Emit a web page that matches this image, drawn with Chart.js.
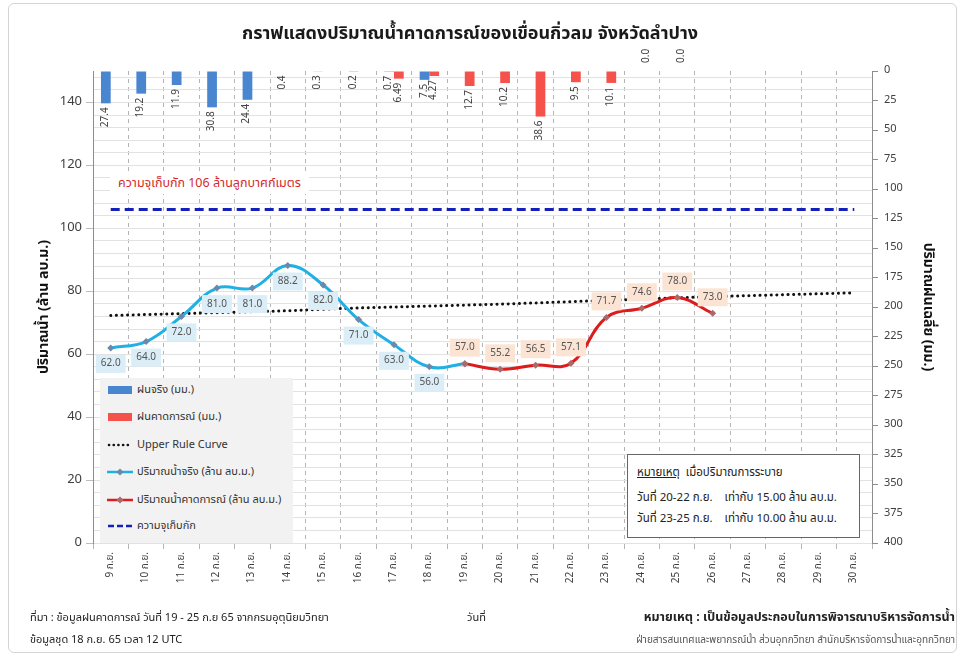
<!DOCTYPE html>
<html lang="th">
<head>
<meta charset="utf-8">
<title>ปริมาณน้ำคาดการณ์ เขื่อนกิ่วลม</title>
<script src="https://cdn.jsdelivr.net/npm/chart.js@4.4.1/dist/chart.umd.min.js"></script>
<style>
  body { margin: 0; background: #fff; font-family: 'Noto Sans Thai', Tahoma, 'Noto Sans', 'DejaVu Sans', sans-serif; color: #222; }
  #wrap { position: relative; width: 964px; height: 657px; overflow: hidden; }
  #frame { position: absolute; left: 8px; top: 3px; width: 947px; height: 648px; border: 1px solid #d4d4d4; border-radius: 6px; }
  #damChart { position: absolute; left: 0; top: 0; }
  .title { position: absolute; top: 20px; left: 0; width: 940px; text-align: center; font-size: 18px; font-weight: bold; color: #1a1a1a; }
  .cap-label { position: absolute; left: 110px; top: 173px; padding: 1px 8px; background: #fff; color: #d42a2a; font-size: 12.5px; }
  #legend { position: absolute; left: 100px; top: 378px; width: 193px; height: 165px; background: #f2f2f2; font-size: 11px; color: #333; }
  #legend .item { position: absolute; left: 7px; height: 14px; line-height: 14px; white-space: nowrap; }
  #legend svg { vertical-align: middle; margin-right: 4px; }
  #note { position: absolute; left: 627px; top: 454px; width: 231px; height: 82px; background: #fff; border: 1.5px solid #666; font-size: 11.5px; color: #222; }
  #note div { position: absolute; left: 9px; white-space: pre; }
  .foot { position: absolute; font-size: 11px; color: #222; white-space: nowrap; }
</style>
</head>
<body>
<div id="wrap">
  <div id="frame"></div>
  <canvas id="damChart" width="964" height="657"></canvas>
  <div class="title">กราฟแสดงปริมาณน้ำคาดการณ์ของเขื่อนกิ่วลม จังหวัดลำปาง</div>
  <div class="cap-label">ความจุเก็บกัก 106 ล้านลูกบาศก์เมตร</div>

  <div id="legend">
    <div class="item" style="top:5px"><svg width="26" height="10"><rect x="1" y="1" width="24" height="8" fill="#4a86d0"/></svg>ฝนจริง (มม.)</div>
    <div class="item" style="top:32px"><svg width="26" height="10"><rect x="1" y="1" width="24" height="8" fill="#f4524b"/></svg>ฝนคาดการณ์ (มม.)</div>
    <div class="item" style="top:60px"><svg width="26" height="10"><line x1="2" y1="5" x2="25" y2="5" stroke="#111" stroke-width="2.6" stroke-dasharray="0.1 4.6" stroke-linecap="round"/></svg>Upper Rule Curve</div>
    <div class="item" style="top:87px"><svg width="26" height="10"><line x1="0" y1="5" x2="26" y2="5" stroke="#1fb0e4" stroke-width="2.5"/><rect x="10.5" y="2.5" width="5" height="5" fill="#6f88a8" transform="rotate(45 13 5)"/></svg>ปริมาณน้ำจริง (ล้าน ลบ.ม.)</div>
    <div class="item" style="top:115px"><svg width="26" height="10"><line x1="0" y1="5" x2="26" y2="5" stroke="#dd1c1c" stroke-width="2.5"/><rect x="10.5" y="2.5" width="5" height="5" fill="#a86a6a" transform="rotate(45 13 5)"/></svg>ปริมาณน้ำคาดการณ์ (ล้าน ลบ.ม.)</div>
    <div class="item" style="top:141px"><svg width="26" height="10"><line x1="1" y1="5" x2="26" y2="5" stroke="#1420b8" stroke-width="2.5" stroke-dasharray="6 3"/></svg>ความจุเก็บกัก</div>
  </div>

  <div id="note">
    <div style="top:9px"><u>หมายเหตุ</u>  เมื่อปริมาณการระบาย</div>
    <div style="top:34px">วันที่ 20-22 ก.ย.    เท่ากับ 15.00 ล้าน ลบ.ม.</div>
    <div style="top:55px">วันที่ 23-25 ก.ย.    เท่ากับ 10.00 ล้าน ลบ.ม.</div>
  </div>

  <div class="foot" style="left:30px; top:609px;">ที่มา : ข้อมูลฝนคาดการณ์ วันที่ 19 - 25 ก.ย 65 จากกรมอุตุนิยมวิทยา</div>
  <div class="foot" style="left:30px; top:631px;">ข้อมูลชุด 18 ก.ย. 65 เวลา 12 UTC</div>
  <div class="foot" style="left:467px; top:609px;">วันที่</div>
  <div class="foot" style="right:9px; top:608px; font-size:12.5px; font-weight:bold;">หมายเหตุ : เป็นข้อมูลประกอบในการพิจารณาบริหารจัดการน้ำ</div>
  <div class="foot" style="right:9px; top:632px; font-size:10px; color:#555;">ฝ่ายสารสนเทศและพยากรณ์น้ำ ส่วนอุทกวิทยา สำนักบริหารจัดการน้ำและอุทกวิทยา</div>
</div>

<script>
const FONT = "'Noto Sans Thai', Tahoma, 'Noto Sans', 'DejaVu Sans', sans-serif";

const days = ['9 ก.ย.', '10 ก.ย.', '11 ก.ย.', '12 ก.ย.', '13 ก.ย.', '14 ก.ย.', '15 ก.ย.', '16 ก.ย.',
  '17 ก.ย.', '18 ก.ย.', '19 ก.ย.', '20 ก.ย.', '21 ก.ย.', '22 ก.ย.', '23 ก.ย.', '24 ก.ย.',
  '25 ก.ย.', '26 ก.ย.', '27 ก.ย.', '28 ก.ย.', '29 ก.ย.', '30 ก.ย.'];

// rainfall (mm), right axis
const rainActual = [27.4, 19.2, 11.9, 30.8, 24.4, 0.4, 0.3, 0.2, 0.7, 7.5,
  null, null, null, null, null, null, null, null, null, null, null, null];
const rainForecast = [null, null, null, null, null, null, null, null, 6.49, 4.27,
  12.7, 10.2, 38.6, 9.5, 10.1, 0.0, 0.0, null, null, null, null, null];

// storage (million m3), left axis
const storageActual = [62.0, 64.0, 72.0, 81.0, 81.0, 88.2, 82.0, 71.0, 63.0, 56.0, 57.0,
  null, null, null, null, null, null, null, null, null, null, null];
const storageForecast = [null, null, null, null, null, null, null, null, null, null, 57.0,
  55.2, 56.5, 57.1, 71.7, 74.6, 78.0, 73.0, null, null, null, null];
const upperRuleCurve = [72.3, 72.6, 72.9, 73.2, 73.5, 73.8, 74.3, 74.7, 75.0, 75.3, 75.6,
  75.9, 76.3, 76.7, 77.1, 77.5, 77.9, 78.3, 78.6, 78.9, 79.2, 79.5];
const capacity = [106, 106, 106, 106, 106, 106, 106, 106, 106, 106, 106,
  106, 106, 106, 106, 106, 106, 106, 106, 106, 106, 106];

const leftTicks = [0, 20, 40, 60, 80, 100, 120, 140];

function fmtRain(v) {
  const s = v.toFixed(2);
  return s.endsWith('0') ? v.toFixed(1) : s;
}

// value labels for the rain bars and the storage lines
const valueLabels = {
  id: 'valueLabels',
  afterDatasetsDraw(chart) {
    const ctx = chart.ctx;
    const top = chart.chartArea.top;
    ctx.save();
    ctx.font = '10px ' + FONT;
    ctx.fillStyle = '#404040';
    ctx.textBaseline = 'middle';
    [0, 1].forEach(i => {
      const data = chart.data.datasets[i].data;
      chart.getDatasetMeta(i).data.forEach((bar, j) => {
        const v = data[j];
        if (v === null) return;
        ctx.save();
        if (v === 0) {
          ctx.translate(bar.x, top - 8);
          ctx.rotate(-Math.PI / 2);
          ctx.textAlign = 'left';
        } else {
          ctx.translate(bar.x, bar.y + 4);
          ctx.rotate(-Math.PI / 2);
          ctx.textAlign = 'right';
        }
        ctx.fillText(fmtRain(v), 0, 0);
        ctx.restore();
      });
    });

    const sets = [
      { i: 2, dy: 16, bg: '#dbeef7' },
      { i: 3, dy: -16, bg: '#fce4d5' }
    ];
    ctx.textAlign = 'center';
    sets.forEach(s => {
      const data = chart.data.datasets[s.i].data;
      chart.getDatasetMeta(s.i).data.forEach((pt, j) => {
        const v = data[j];
        if (v === null) return;
        if (s.i === 2 && storageForecast[j] !== null) return;
        const txt = v.toFixed(1);
        const w = ctx.measureText(txt).width + 10;
        const h = 18;
        const cy = pt.y + s.dy;
        ctx.fillStyle = s.bg;
        ctx.fillRect(pt.x - w / 2, cy - h / 2, w, h);
        ctx.fillStyle = '#555';
        ctx.fillText(txt, pt.x, cy + 0.5);
      });
    });
    ctx.restore();
  }
};

new Chart(document.getElementById('damChart'), {
  type: 'bar',
  data: {
    labels: days,
    datasets: [
      {
        label: 'ฝนจริง (มม.)',
        data: rainActual,
        yAxisID: 'y2',
        backgroundColor: '#4a86d0',
        categoryPercentage: 0.55,
        barPercentage: 1.0,
        order: 6
      },
      {
        label: 'ฝนคาดการณ์ (มม.)',
        data: rainForecast,
        yAxisID: 'y2',
        backgroundColor: '#f4524b',
        categoryPercentage: 0.55,
        barPercentage: 1.0,
        order: 6
      },
      {
        type: 'line',
        label: 'ปริมาณน้ำจริง (ล้าน ลบ.ม.)',
        data: storageActual,
        yAxisID: 'y',
        borderColor: '#1fb0e4',
        borderWidth: 3,
        tension: 0.4,
        pointStyle: 'rectRot',
        pointRadius: 3.5,
        pointBackgroundColor: '#6f88a8',
        pointBorderWidth: 0,
        order: 2
      },
      {
        type: 'line',
        label: 'ปริมาณน้ำคาดการณ์ (ล้าน ลบ.ม.)',
        data: storageForecast,
        yAxisID: 'y',
        borderColor: '#dd1c1c',
        borderWidth: 3,
        tension: 0.4,
        pointStyle: 'rectRot',
        pointRadius: 3.5,
        pointBackgroundColor: '#a86a6a',
        pointBorderWidth: 0,
        order: 1
      },
      {
        type: 'line',
        label: 'Upper Rule Curve',
        data: upperRuleCurve,
        yAxisID: 'y',
        borderColor: '#111',
        borderWidth: 3,
        borderDash: [0.1, 5.5],
        borderCapStyle: 'round',
        pointRadius: 0,
        order: 4
      },
      {
        type: 'line',
        label: 'ความจุเก็บกัก',
        data: capacity,
        yAxisID: 'y',
        borderColor: '#1420b8',
        borderWidth: 3,
        borderDash: [9, 5],
        pointRadius: 0,
        order: 3
      }
    ]
  },
  options: {
    responsive: false,
    animation: false,
    layout: { padding: { top: 71, left: 33, right: 25, bottom: 0 } },
    plugins: {
      legend: { display: false },
      tooltip: { enabled: false }
    },
    scales: {
      x: {
        offset: true,
        grid: { color: '#b4b4b4', offset: true, tickLength: 6 },
        border: { display: false, dash: [4, 4] },
        ticks: {
          color: '#404040',
          font: { family: FONT, size: 10 },
          maxRotation: 90,
          minRotation: 90,
          padding: 3
        },
        afterFit: (s) => { s.height = 114; }
      },
      y: {
        position: 'left',
        min: 0,
        max: 150,
        afterBuildTicks: (s) => { s.ticks = leftTicks.map(v => ({ value: v })); },
        grid: { color: '#bdbdbd', tickLength: 7 },
        border: { color: '#8c8c8c' },
        ticks: { color: '#404040', font: { family: FONT, size: 13 }, padding: 4 },
        title: {
          display: true,
          text: 'ปริมาณน้ำ (ล้าน ลบ.ม.)',
          color: '#111',
          font: { family: FONT, size: 14, weight: 'bold' }
        },
        afterFit: (s) => { s.width = 60; }
      },
      yMinor: {
        position: 'left',
        min: 0,
        max: 150,
        ticks: { display: false, stepSize: 4, includeBounds: false },
        grid: { color: '#e2e2e2', drawTicks: false },
        border: { display: false },
        afterFit: (s) => { s.width = 0; }
      },
      y2: {
        position: 'right',
        reverse: true,
        min: 0,
        max: 400,
        ticks: { stepSize: 25, color: '#404040', font: { family: FONT, size: 11 }, padding: 6 },
        grid: { drawOnChartArea: false, color: '#8c8c8c', tickLength: 6 },
        border: { color: '#8c8c8c' },
        title: {
          display: true,
          text: 'ปริมาณฝนเฉลี่ย (มม.)',
          color: '#111',
          font: { family: FONT, size: 14, weight: 'bold' }
        },
        afterFit: (s) => { s.width = 67; }
      }
    }
  },
  plugins: [valueLabels]
});
</script>
</body>
</html>
